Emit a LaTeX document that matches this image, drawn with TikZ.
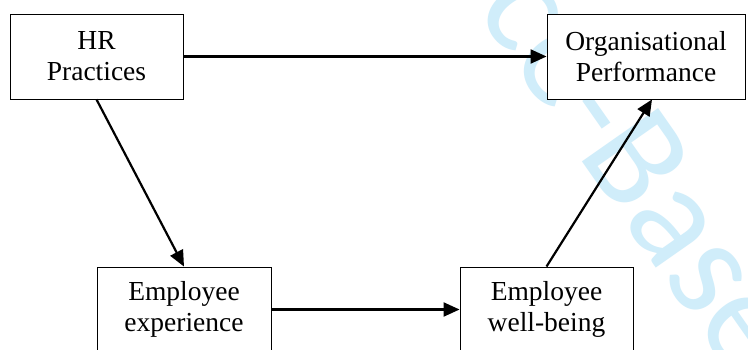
\documentclass[tikz,border=0pt]{standalone}
\usepackage{fontspec}
\setmainfont{Liberation Serif}
\newfontfamily\markfont{Carlito}
\usetikzlibrary{arrows.meta}
\definecolor{markblue}{RGB}{208,237,250}
\tikzset{
  box/.style={draw=black, line width=0.9pt, fill=white, minimum height=85pt,
    align=center, inner sep=0pt,
    font=\fontsize{27.5}{31}\selectfont},
  link/.style={line width=2.2pt, -{Triangle[length=16pt,width=14pt]}},
  stamp/.style={text=markblue, font=\markfont\fontsize{145}{145}\selectfont,
    inner sep=0pt, rotate=-55, anchor=base west}
}
\begin{document}
\begin{tikzpicture}[x=1pt,y=-1pt]
  \useasboundingbox (0,0) rectangle (748,349);
  \clip (0,0) rectangle (748,349);
  \fill[white] (0,0) rectangle (748,349);
  % background stamp
  \node[stamp] (stamp) at (474,8) {ce-Base};
  % boxes
  \node[box, minimum width=173pt] (hr)  at (96.5,56.5) {HR\\Practices};
  \node[box, minimum width=198pt] (org) at (646,56.5) {Organisational\\Performance};
  \node[box, minimum width=174pt] (ee)  at (184,309.5) {Employee\\experience};
  \node[box, minimum width=173pt] (ew)  at (546.5,309.5) {Employee\\well-being};
  % connectors
  \draw[link] (hr.east) -- (org.west);
  \draw[link] (hr.south) -- (ee.north);
  \draw[link] (ee.east) -- (ew.west);
  \draw[link] (ew.north) -- ([xshift=6pt]org.south);
\end{tikzpicture}
\end{document}
